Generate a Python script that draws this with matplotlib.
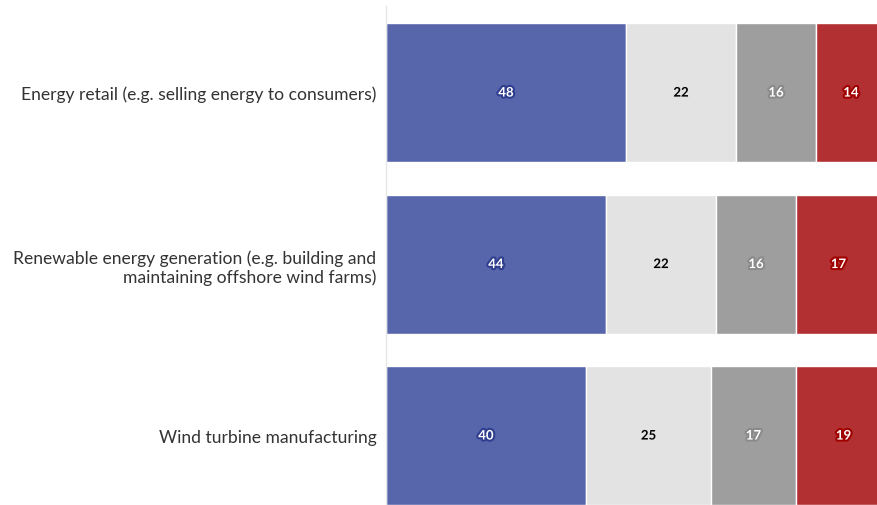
import matplotlib.pyplot as plt
import matplotlib.patheffects as pe
import numpy as np

# survey categories and shares (%)
categories = ["Energy retail (e.g. selling energy to consumers)",
              "Renewable energy generation (e.g. building and\nmaintaining offshore wind farms)",
              "Wind turbine manufacturing"]
seg1 = [48, 44, 40]
seg2 = [22, 22, 25]
seg3 = [16, 16, 17]
seg4 = [14, 17, 19]

colors = ["#5766aa", "#e3e3e3", "#9e9e9e", "#b23031"]
text_colors = ["white", "black", "white", "white"]
stroke_colors = ["#2f3d8f", "#e3e3e3", "#8a8a8a", "#a00000"]

fig = plt.figure(figsize=(8.77, 5.06), dpi=100)
ax = fig.add_axes([386/877, 0, 491/877, 499/506])

y = np.arange(len(categories))
left = np.zeros(len(categories))
for vals, col, tcol, scol in zip([seg1, seg2, seg3, seg4], colors, text_colors, stroke_colors):
    vals = np.array(vals)
    ax.barh(y, vals, left=left, height=0.81, color=col, edgecolor="white", linewidth=1)
    for yi, l, v in zip(y, left, vals):
        t = ax.text(l + v/2, yi, str(v), ha="center", va="center", fontsize=9.5,
                    fontweight="bold", color=tcol, family="Lato")
        t.set_path_effects([pe.withStroke(linewidth=3, foreground=scol)])
    left += vals

ax.set_xlim(0, 98.2)
ax.set_ylim(2.405, -0.505)
ax.set_yticks(y)
ax.set_yticklabels(categories, fontsize=12.6, family="Lato", color="#333333")
ax.tick_params(axis="y", length=0, pad=7)
ax.set_xticks([])
for s in ["top", "right", "bottom"]:
    ax.spines[s].set_visible(False)
ax.spines["left"].set_color("#e6e6e6")
ax.spines["left"].set_linewidth(1)

fig.savefig("out.png", dpi=100)
